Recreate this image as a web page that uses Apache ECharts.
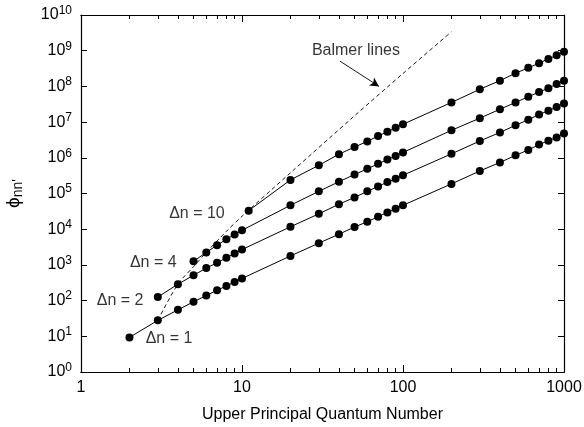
<!DOCTYPE html>
<html>
<head>
<meta charset="utf-8">
<script src="https://cdn.jsdelivr.net/npm/echarts@6/dist/echarts.min.js"></script>
<style>html,body{margin:0;padding:0;background:#fff}#c{width:584px;height:427px}</style>
</head>
<body>
<div id="c"></div>
<script>
// ---- data ----
const nDn1 = [2,3,4,5,6,7,8,9,10,20,30,40,50,60,70,80,90,100,200,300,400,500,600,700,800,900,1000];
const phiDn1 = [9.3,28,55,93,138,195,257,331,417,1780,4070,7240,11500,16200,22400,29500,37200,46800,186000,427000,741000,1170000,1660000,2340000,3020000,3720000,4790000];

const nDn2 = [3,4,5,6,7,8,9,10,20,30,40,50,60,70,80,90,100,200,300,400,500,600,700,800,900,1000];
const phiDn2 = [126,288,513,813,1150,1580,2090,2690,11700,26900,50100,77600,115000,158000,209000,257000,324000,1290000,2950000,5130000,8130000,11700000,16200000,20900000,26300000,33100000];

const nDn4 = [5,6,7,8,9,10,20,30,40,50,60,70,80,90,100,200,300,400,500,600,700,800,900,1000];
const phiDn4 = [1260,2240,3550,5250,7080,9330,46800,115000,214000,339000,490000,676000,891000,1120000,1410000,5890000,12900000,22900000,35500000,51300000,69200000,89100000,117000000,145000000];

const nDn10 = [11,20,30,40,50,60,70,80,90,100,200,300,400,500,600,700,800,900,1000];
const phiDn10 = [33100,240000,617000,1260000,2000000,2880000,4070000,5370000,6920000,8700000,35500000,83200000,145000000,234000000,331000000,447000000,589000000,741000000,933000000];

const nBalmer = [3,4,5,6,8,10,20,50,100,200];
const phiBalmer = [28,290,890,2240,8700,23000,380000,15000000,230000000,3400000000];

const xMajorTicks = [1,10,100,1000];
const xMinorTicks = [2,3,4,5,6,7,8,9,20,30,40,50,60,70,80,90,200,300,400,500,600,700,800,900];
const yMajorTicks = [1,10,100,1e3,1e4,1e5,1e6,1e7,1e8,1e9,1e10];

const seriesLabels = ['Δn = 1','Δn = 2','Δn = 4','Δn = 10','Balmer lines'];
const labelPos = [[3.52,8.9],[1.75,100],[2.81,1180],[5.25,27000],[51,1.0e9]];
const arrowFrom = [40.6,5.1e8];
const arrowTo = [71,1.0e8];

// ---- chart ----
const FONT = 'Liberation Sans';
const zip = (a,b) => a.map((v,i)=>[v,b[i]]);
const chart = echarts.init(document.getElementById('c'), null, {renderer:'canvas'});

function xAxisDef(pos, ticks, len, showLabel, name) {
  return {
    type:'log', logBase:10, min:1, max:1000, position:pos, gridIndex:0,
    axisLine:{show:true, onZero:false, lineStyle:{color:'#000', width:1.2}},
    axisTick:{show:true, inside:true, length:len, customValues:ticks, lineStyle:{color:'#000', width:1}},
    axisLabel:{show:showLabel, customValues:xMajorTicks, color:'#000', fontFamily:FONT, fontSize:16, margin:8,
               formatter: v => String(Math.round(v))},
    splitLine:{show:false}, minorTick:{show:false},
    name: name || '', nameLocation:'middle', nameGap:35,
    nameTextStyle:{color:'#000', fontFamily:FONT, fontSize:16}
  };
}
function yAxisDef(pos, showLabel, name) {
  return {
    type:'log', logBase:10, min:1, max:1e10, position:pos, gridIndex:0,
    axisLine:{show:true, onZero:false, lineStyle:{color:'#000', width:1.2}},
    axisTick:{show:true, inside:true, length:6, customValues:yMajorTicks, lineStyle:{color:'#000', width:1}},
    axisLabel:{show:showLabel, customValues:yMajorTicks, color:'#000', fontFamily:FONT, fontSize:16, margin:9,
      formatter: v => '10{s|' + Math.round(Math.log10(v)) + '}',
      rich:{ s:{fontSize:12, fontFamily:FONT, color:'#000', verticalAlign:'top', padding:[0,0,9,0]} } },
    splitLine:{show:false},
    name: name || '', nameLocation:'middle', nameGap:56, nameRotate:90,
    nameTextStyle:{color:'#000', fontFamily:FONT, fontSize:19,
      rich:{ p:{fontSize:19, fontFamily:FONT, color:'#000'}, s:{fontSize:14, fontFamily:FONT, color:'#000', padding:[9,0,0,0]} } }
  };
}

const lineStyleSolid = {color:'#000', width:1};
function dataSeries(n, phi) {
  return {type:'line', xAxisIndex:0, yAxisIndex:0, data: zip(n, phi),
    symbol:'circle', symbolSize:8, showSymbol:true,
    itemStyle:{color:'#000'}, lineStyle:lineStyleSolid, z:3};
}

const option = {
  animation:false,
  backgroundColor:'#fff',
  grid:{left:81, right:20, top:15, bottom:55, containLabel:false, outerBoundsMode:'none'},
  xAxis:[
    xAxisDef('bottom', xMajorTicks, 7, true, 'Upper Principal Quantum Number'),
    xAxisDef('bottom', xMinorTicks, 4, false),
    xAxisDef('top', xMajorTicks, 7, false),
    xAxisDef('top', xMinorTicks, 4, false)
  ],
  yAxis:[
    yAxisDef('left', true, '{p|ϕ}{s|nn\'}'),
    yAxisDef('right', false)
  ],
  series:[
    dataSeries(nDn1, phiDn1),
    dataSeries(nDn2, phiDn2),
    dataSeries(nDn4, phiDn4),
    dataSeries(nDn10, phiDn10),
    {type:'line', xAxisIndex:0, yAxisIndex:0, data: zip(nBalmer, phiBalmer), smooth:0.3,
      showSymbol:false, symbol:'none',
      lineStyle:{color:'#000', width:0.9, type:[4,3]}, z:2,
      markLine:{silent:true, symbol:['none','arrow'], symbolSize:[7,9],
        lineStyle:{color:'#000', width:0.9, type:'solid'}, label:{show:false},
        data:[[{coord:arrowFrom},{coord:arrowTo}]]}},
    {type:'scatter', xAxisIndex:0, yAxisIndex:0, symbolSize:0, z:5,
      data: labelPos.map((p,i)=>({value:p, name:seriesLabels[i]})),
      label:{show:true, position:'inside', formatter: p => p.name, color:'#000', fontFamily:FONT, fontSize:16}}
  ]
};
chart.setOption(option);
</script>
</body>
</html>
